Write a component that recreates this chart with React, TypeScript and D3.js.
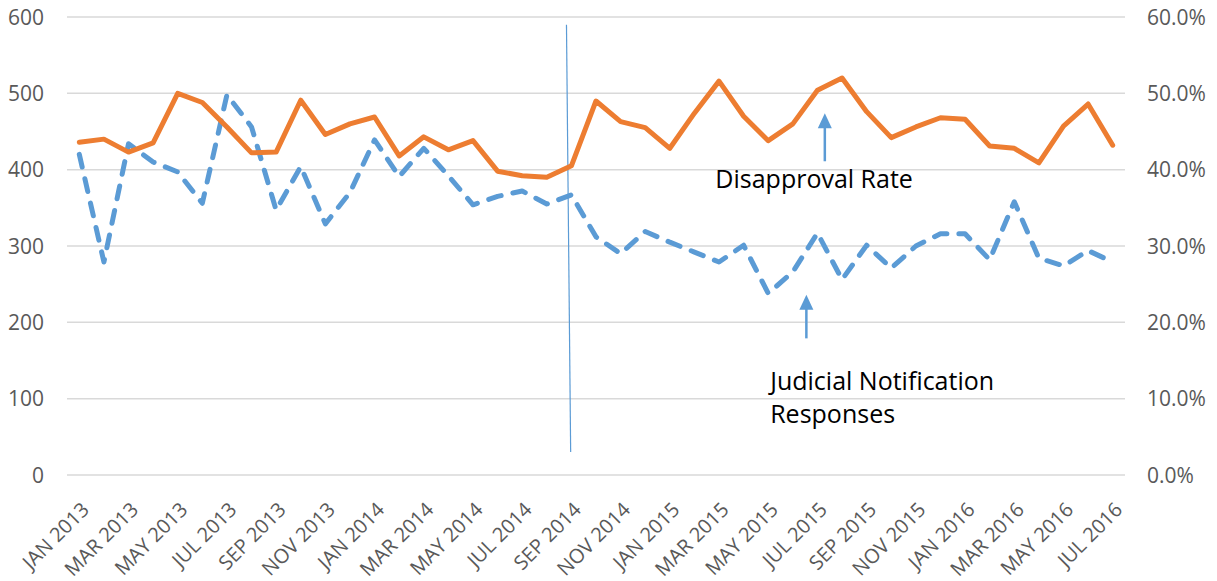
import React, { useEffect, useRef } from 'react';
import * as d3 from 'd3';

// monthly categories, Jan 2013 .. Jul 2016
const months = [
  'JAN 2013', 'FEB 2013', 'MAR 2013', 'APR 2013', 'MAY 2013', 'JUN 2013', 'JUL 2013', 'AUG 2013',
  'SEP 2013', 'OCT 2013', 'NOV 2013', 'DEC 2013', 'JAN 2014', 'FEB 2014', 'MAR 2014', 'APR 2014',
  'MAY 2014', 'JUN 2014', 'JUL 2014', 'AUG 2014', 'SEP 2014', 'OCT 2014', 'NOV 2014', 'DEC 2014',
  'JAN 2015', 'FEB 2015', 'MAR 2015', 'APR 2015', 'MAY 2015', 'JUN 2015', 'JUL 2015', 'AUG 2015',
  'SEP 2015', 'OCT 2015', 'NOV 2015', 'DEC 2015', 'JAN 2016', 'FEB 2016', 'MAR 2016', 'APR 2016',
  'MAY 2016', 'JUN 2016', 'JUL 2016',
];

// left axis: judicial notification responses
const responses = [
  420, 279, 434, 410, 397, 356, 498, 456, 347, 404, 329, 370, 439, 391, 428, 392,
  354, 365, 372, 355, 367, 312, 290, 319, 305, 292, 279, 301, 238, 266, 317, 256,
  301, 271, 300, 316, 316, 282, 358, 284, 274, 294, 279,
];

// right axis: disapproval rate (%)
const disapproval = [
  43.6, 44.0, 42.3, 43.5, 50.0, 48.8, 45.6, 42.2, 42.3, 49.1, 44.6, 46.0, 46.9, 41.8, 44.3, 42.6,
  43.8, 39.8, 39.2, 39.0, 40.5, 49.0, 46.3, 45.5, 42.8, 47.4, 51.6, 47.0, 43.8, 46.0, 50.4, 52.0,
  47.6, 44.2, 45.6, 46.8, 46.6, 43.1, 42.8, 40.9, 45.7, 48.6, 43.2,
];

const leftTicks = [0, 100, 200, 300, 400, 500, 600];
const rightTicks = [0, 10, 20, 30, 40, 50, 60];

// annotations, in data units (month index / axis value)
const dividerIdx = [19.8, 19.97];
const dividerVal = [590, 30];
const rateArrow = { idx: 30.3, from: 41.1, to: 47.4 }; // right axis
const respArrow = { idx: 29.55, from: 179, to: 236 }; // left axis
const rateLabel = { idx: 25.85, val: 376, lines: ['Disapproval Rate'] };
const respLabel = { idx: 28.08, val: 111, lines: ['Judicial Notification', 'Responses'] };

const BLUE = '#5B9BD5';
const ORANGE = '#ED7D31';
const GREY = '#595959';
const FONT = "'Open Sans', sans-serif";

export default function App() {
  const ref = useRef<SVGSVGElement | null>(null);

  useEffect(() => {
    const width = 1217;
    const height = 581;
    const left = 67;
    const right = 1125;
    const top = 17;
    const bottom = 475;

    const svg = d3.select(ref.current);
    svg.selectAll('*').remove();
    svg.attr('width', width).attr('height', height);

    const x = d3.scaleLinear().domain([-0.5, months.length - 0.5]).range([left, right]);
    const y = d3.scaleLinear().domain([0, 600]).range([bottom, top]);
    const yR = d3.scaleLinear().domain([0, 60]).range([bottom, top]);

    // gridlines
    svg.append('g')
      .selectAll('line')
      .data(leftTicks)
      .join('line')
      .attr('x1', left)
      .attr('x2', right)
      .attr('y1', d => y(d))
      .attr('y2', d => y(d))
      .attr('stroke', '#d9d9d9')
      .attr('stroke-width', 1.5);

    // left axis labels
    svg.append('g')
      .selectAll('text')
      .data(leftTicks)
      .join('text')
      .attr('x', 44)
      .attr('y', d => y(d))
      .attr('dy', '0.36em')
      .attr('text-anchor', 'end')
      .attr('fill', GREY)
      .attr('font-family', FONT)
      .attr('font-size', 21)
      .text(d => d3.format('d')(d));

    // right axis labels
    svg.append('g')
      .selectAll('text')
      .data(rightTicks)
      .join('text')
      .attr('x', 1147)
      .attr('y', d => yR(d))
      .attr('dy', '0.36em')
      .attr('text-anchor', 'start')
      .attr('fill', GREY)
      .attr('font-family', FONT)
      .attr('font-size', 21)
      .text(d => d.toFixed(1) + '%');

    // x labels, every other month, rotated
    svg.append('g')
      .selectAll('text')
      .data(months.map((m, i) => ({ m, i })).filter(d => d.i % 2 === 0))
      .join('text')
      .attr('transform', d => `translate(${x(d.i) + 11},${511}) rotate(-45)`)
      .attr('text-anchor', 'end')
      .attr('fill', GREY)
      .attr('font-family', FONT)
      .attr('font-size', 20)
      .text(d => d.m);

    // divider line
    svg.append('line')
      .attr('x1', x(dividerIdx[0]))
      .attr('y1', y(dividerVal[0]))
      .attr('x2', x(dividerIdx[1]))
      .attr('y2', y(dividerVal[1]))
      .attr('stroke', BLUE)
      .attr('stroke-width', 1.2);

    // responses (dashed)
    const lineL = d3.line<number>().x((_, i) => x(i)).y(d => y(d));
    svg.append('path')
      .datum(responses)
      .attr('d', lineL)
      .attr('fill', 'none')
      .attr('stroke', BLUE)
      .attr('stroke-width', 5)
      .attr('stroke-dasharray', '13 12')
      .attr('stroke-linecap', 'round')
      .attr('stroke-linejoin', 'round');

    // disapproval rate
    const lineR = d3.line<number>().x((_, i) => x(i)).y(d => yR(d));
    svg.append('path')
      .datum(disapproval)
      .attr('d', lineR)
      .attr('fill', 'none')
      .attr('stroke', ORANGE)
      .attr('stroke-width', 5)
      .attr('stroke-linecap', 'round')
      .attr('stroke-linejoin', 'round');

    // arrows
    const arrow = (ax: number, y0: number, y1: number) => {
      svg.append('line')
        .attr('x1', ax).attr('x2', ax)
        .attr('y1', y0).attr('y2', y1 + 12)
        .attr('stroke', BLUE)
        .attr('stroke-width', 2.5);
      svg.append('path')
        .attr('d', `M${ax},${y1} L${ax - 7},${y1 + 15} L${ax + 7},${y1 + 15} Z`)
        .attr('fill', BLUE);
    };
    arrow(x(rateArrow.idx), yR(rateArrow.from), yR(rateArrow.to));
    arrow(x(respArrow.idx), y(respArrow.from), y(respArrow.to));

    // annotation labels
    [rateLabel, respLabel].forEach(lab => {
      svg.append('text')
        .attr('x', x(lab.idx))
        .attr('y', y(lab.val))
        .attr('fill', '#000')
        .attr('font-family', FONT)
        .attr('font-size', 25)
        .selectAll('tspan')
        .data(lab.lines)
        .join('tspan')
        .attr('x', x(lab.idx))
        .attr('dy', (_, i) => (i === 0 ? 0 : 33))
        .text(d => d);
    });
  }, []);

  return (
    <svg ref={ref} style={{ position: 'absolute', left: 0, top: 0, background: '#fff' }} />
  );
}
